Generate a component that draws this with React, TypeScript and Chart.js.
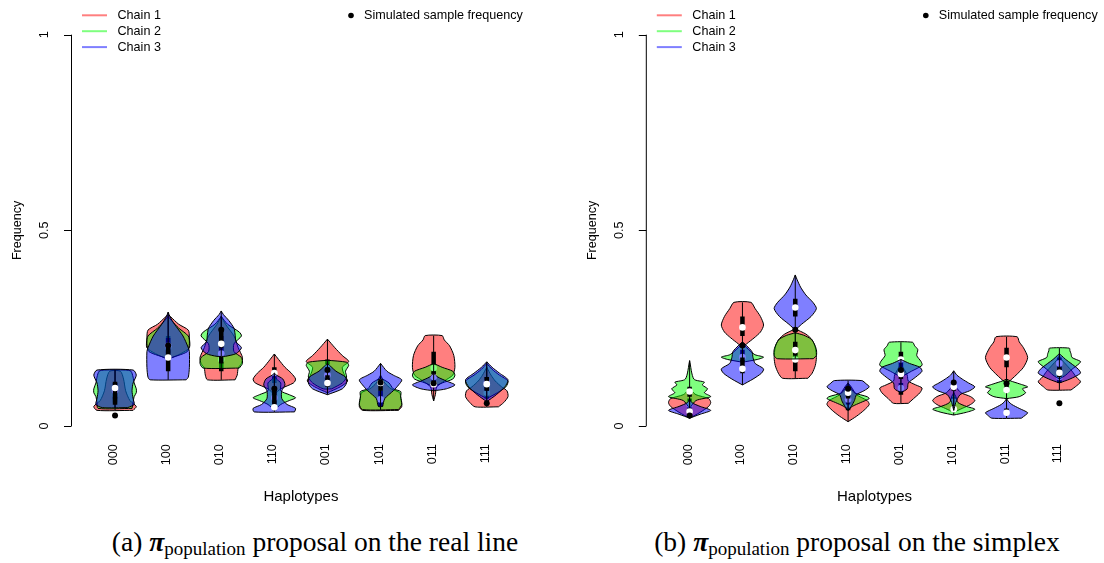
import { useEffect, useRef } from "react";
import { Chart, registerables } from "chart.js";

Chart.register(...registerables);

type Profile = [number, number][]; // [frequency, relative density]
type Box = [number, number, number]; // [q1, median, q3]

const haplotypes = ["000", "100", "010", "110", "001", "101", "011", "111"];
const sampleFrequency = [0.027, 0.206, 0.246, 0.095, 0.143, 0.111, 0.109, 0.058];
const yTickValues = [0, 0.5, 1];
const yTickLabels = ["0", "0.5", "1"];
const chainNames = ["Chain 1", "Chain 2", "Chain 3"];

// ---- (a) proposal on the real line ----
const realChain1: Profile[] = [
  [[0.04, 0.85], [0.05, 1.0], [0.065, 0.7], [0.09, 0.5], [0.12, 0.4], [0.14, 0.25]],
  [[0.17, 0], [0.185, 0.6], [0.2, 1.0], [0.225, 1.0], [0.245, 0.95], [0.26, 0.5], [0.28, 0.1], [0.285, 0]],
  [[0.118, 0.65], [0.13, 0.75], [0.148, 0.8], [0.16, 0.95], [0.175, 1.0], [0.2, 0.8], [0.23, 0.6], [0.26, 0.2], [0.28, 0]],
  [[0.08, 0], [0.095, 0.3], [0.11, 0.9], [0.12, 1.0], [0.135, 0.8], [0.15, 0.5], [0.17, 0.2], [0.184, 0]],
  [[0.085, 0], [0.1, 0.6], [0.115, 0.95], [0.13, 0.8], [0.15, 0.7], [0.165, 1.0], [0.18, 0.7], [0.2, 0.35], [0.222, 0]],
  [[0.04, 0.85], [0.05, 1.0], [0.07, 0.95], [0.085, 0.9], [0.095, 0.5], [0.11, 0.2], [0.13, 0]],
  [[0.064, 0], [0.08, 0.08], [0.1, 0.15], [0.115, 0.5], [0.13, 0.9], [0.15, 1.0], [0.18, 0.95], [0.205, 0.75], [0.22, 0.5], [0.231, 0.4]],
  [[0.049, 0.55], [0.06, 0.8], [0.075, 1.0], [0.09, 0.95], [0.1, 0.7], [0.115, 0.4], [0.13, 0.2], [0.15, 0]],
];
const realChain2: Profile[] = [
  [[0.045, 0.8], [0.06, 0.85], [0.075, 0.9], [0.085, 1.0], [0.095, 1.0], [0.11, 0.9], [0.125, 0.85], [0.14, 0.75], [0.143, 0.5]],
  [[0.172, 0], [0.19, 0.9], [0.21, 1.0], [0.23, 0.95], [0.25, 0.5], [0.27, 0.15], [0.28, 0]],
  [[0.148, 0.85], [0.16, 1.0], [0.175, 0.95], [0.19, 0.6], [0.21, 0.6], [0.23, 0.95], [0.24, 0.85], [0.26, 0.3], [0.28, 0]],
  [[0.04, 0], [0.055, 0.3], [0.065, 0.7], [0.072, 1.0], [0.08, 0.7], [0.09, 0.3], [0.11, 0.3], [0.12, 0.1], [0.13, 0]],
  [[0.095, 0.2], [0.11, 0.7], [0.125, 0.9], [0.14, 0.85], [0.155, 1.0], [0.163, 0.9], [0.168, 0]],
  [[0.042, 0.85], [0.055, 1.0], [0.075, 0.95], [0.088, 0.95], [0.095, 0.6], [0.11, 0.4], [0.12, 0.1], [0.125, 0]],
  [[0.1, 0], [0.11, 0.4], [0.12, 0.9], [0.13, 1.0], [0.14, 0.9], [0.15, 0.4], [0.16, 0]],
  [[0.07, 0], [0.085, 0.5], [0.1, 0.9], [0.115, 1.0], [0.13, 0.6], [0.145, 0.25], [0.16, 0]],
];
const realChain3: Profile[] = [
  [[0.047, 0.6], [0.055, 0.9], [0.07, 0.85], [0.09, 0.8], [0.11, 0.85], [0.13, 1.0], [0.143, 0.85]],
  [[0.118, 0.85], [0.125, 0.95], [0.15, 1.0], [0.19, 1.0], [0.2, 0.95], [0.23, 0.7], [0.26, 0.3], [0.28, 0.08], [0.291, 0]],
  [[0.178, 0.2], [0.185, 0.7], [0.2, 0.95], [0.215, 0.7], [0.235, 0.65], [0.25, 0.6], [0.27, 0.35], [0.285, 0.1], [0.294, 0]],
  [[0.036, 0.95], [0.045, 1.0], [0.055, 0.6], [0.07, 0.35], [0.09, 0.35], [0.105, 0.5], [0.12, 0.4], [0.13, 0.1], [0.135, 0]],
  [[0.08, 0], [0.095, 0.7], [0.11, 0.9], [0.125, 0.85], [0.14, 0.4], [0.15, 0.2], [0.16, 0]],
  [[0.05, 0.1], [0.07, 0.2], [0.09, 0.6], [0.105, 0.85], [0.118, 1.0], [0.13, 0.6], [0.14, 0.3], [0.16, 0]],
  [[0.09, 0], [0.095, 0.6], [0.105, 1.0], [0.115, 0.6], [0.125, 0.2], [0.135, 0]],
  [[0.062, 0], [0.08, 0.45], [0.1, 0.85], [0.118, 1.0], [0.135, 0.6], [0.15, 0.25], [0.164, 0]],
];
const realBox1: Box[] = [
  [0.06, 0.08, 0.11], [0.18, 0.2, 0.23], [0.14, 0.17, 0.2], [0.11, 0.135, 0.15],
  [0.12, 0.15, 0.17], [0.05, 0.07, 0.09], [0.13, 0.148, 0.19], [0.07, 0.085, 0.1],
];
const realBox2: Box[] = [
  [0.07, 0.09, 0.11], [0.185, 0.205, 0.225], [0.16, 0.185, 0.23], [0.055, 0.072, 0.1],
  [0.11, 0.13, 0.15], [0.05, 0.068, 0.09], [0.115, 0.125, 0.14], [0.09, 0.11, 0.125],
];
const realBox3: Box[] = [
  [0.054, 0.097, 0.113], [0.14, 0.175, 0.21], [0.2, 0.21, 0.25], [0.04, 0.048, 0.1],
  [0.1, 0.11, 0.13], [0.09, 0.11, 0.12], [0.1, 0.107, 0.115], [0.09, 0.107, 0.125],
];

// ---- (b) proposal on the simplex ----
const simplexChain1: Profile[] = [
  [[0.02, 0], [0.035, 0.5], [0.05, 0.9], [0.06, 1.0], [0.07, 0.9], [0.08, 0.3], [0.09, 0.1], [0.1, 0]],
  [[0.2, 0], [0.21, 0.2], [0.225, 0.55], [0.24, 0.85], [0.258, 1.0], [0.28, 0.85], [0.3, 0.6], [0.316, 0.4]],
  [[0.122, 0.6], [0.135, 0.8], [0.155, 0.95], [0.175, 1.0], [0.2, 0.95], [0.22, 0.8], [0.235, 0.5], [0.248, 0]],
  [[0.011, 0], [0.025, 0.4], [0.04, 0.75], [0.055, 1.0], [0.065, 0.9], [0.08, 0.4], [0.1, 0.15], [0.11, 0]],
  [[0.058, 0.35], [0.07, 0.6], [0.085, 0.9], [0.097, 1.0], [0.105, 0.7], [0.115, 0.35], [0.13, 0.3], [0.145, 0.15], [0.16, 0]],
  [[0.035, 0], [0.045, 0.4], [0.055, 0.8], [0.065, 1.0], [0.075, 0.8], [0.085, 0.35], [0.1, 0.1], [0.11, 0]],
  [[0.105, 0], [0.115, 0.15], [0.13, 0.45], [0.15, 0.8], [0.175, 1.0], [0.2, 0.8], [0.215, 0.6], [0.228, 0.5]],
  [[0.092, 0.55], [0.1, 0.75], [0.113, 1.0], [0.125, 0.8], [0.14, 0.6], [0.155, 0.35], [0.17, 0.1], [0.18, 0]],
];
const simplexChain2: Profile[] = [
  [[0.045, 0], [0.065, 0.3], [0.075, 1.0], [0.085, 0.7], [0.095, 0.85], [0.105, 0.6], [0.112, 0.7], [0.12, 0.2], [0.167, 0]],
  [[0.163, 0], [0.17, 0.7], [0.176, 1.0], [0.182, 0.6], [0.19, 0.4], [0.2, 0.2], [0.21, 0]],
  [[0.172, 0.85], [0.18, 1.0], [0.195, 1.0], [0.21, 0.9], [0.222, 0.75], [0.232, 0.4], [0.238, 0]],
  [[0.04, 0], [0.05, 0.2], [0.06, 0.6], [0.07, 1.0], [0.075, 0.9], [0.085, 0.3], [0.1, 0.1], [0.11, 0]],
  [[0.125, 0], [0.14, 0.5], [0.155, 1.0], [0.165, 0.95], [0.18, 0.75], [0.195, 0.8], [0.205, 0.65], [0.214, 0.55]],
  [[0.028, 0], [0.035, 0.6], [0.043, 1.0], [0.05, 0.6], [0.06, 0.2], [0.075, 0.1], [0.085, 0]],
  [[0.07, 0], [0.075, 0.6], [0.085, 0.9], [0.095, 0.75], [0.1, 1.0], [0.108, 0.6], [0.115, 0.2], [0.12, 0]],
  [[0.12, 0], [0.13, 0.3], [0.145, 0.6], [0.16, 0.95], [0.165, 1.0], [0.175, 0.6], [0.185, 0.55], [0.192, 0.5], [0.199, 0.47]],
];
const simplexChain3: Profile[] = [
  [[0.02, 0], [0.03, 0.5], [0.04, 1.0], [0.05, 0.5], [0.06, 0.1], [0.07, 0]],
  [[0.105, 0], [0.12, 0.5], [0.135, 0.9], [0.146, 1.0], [0.16, 0.6], [0.175, 0.5], [0.19, 0.45], [0.205, 0.2], [0.215, 0]],
  [[0.245, 0], [0.26, 0.3], [0.28, 0.75], [0.3, 1.0], [0.315, 0.85], [0.335, 0.5], [0.355, 0.25], [0.375, 0.08], [0.386, 0]],
  [[0.04, 0], [0.05, 0.15], [0.065, 0.3], [0.08, 0.4], [0.09, 0.75], [0.1, 1.0], [0.108, 0.85], [0.116, 0.65]],
  [[0.085, 0], [0.095, 0.3], [0.11, 0.35], [0.125, 0.7], [0.14, 1.0], [0.15, 0.9], [0.16, 0.4], [0.17, 0]],
  [[0.04, 0], [0.06, 0.1], [0.08, 0.3], [0.09, 0.75], [0.1, 1.0], [0.11, 0.7], [0.12, 0.4], [0.13, 0.15], [0.141, 0]],
  [[0.02, 0.7], [0.028, 0.9], [0.034, 1.0], [0.045, 0.6], [0.055, 0.25], [0.062, 0.1], [0.07, 0]],
  [[0.11, 0], [0.12, 0.5], [0.135, 1.0], [0.145, 0.9], [0.16, 0.55], [0.17, 0.3], [0.18, 0.1], [0.185, 0]],
];
const simplexBox1: Box[] = [
  [0.045, 0.055, 0.07], [0.23, 0.252, 0.28], [0.14, 0.17, 0.2], [0.04, 0.055, 0.07],
  [0.08, 0.097, 0.11], [0.055, 0.062, 0.075], [0.15, 0.175, 0.2], [0.11, 0.125, 0.14],
];
const simplexBox2: Box[] = [
  [0.075, 0.088, 0.1], [0.165, 0.176, 0.195], [0.18, 0.194, 0.215], [0.055, 0.068, 0.08],
  [0.15, 0.17, 0.19], [0.038, 0.043, 0.05], [0.085, 0.092, 0.105], [0.14, 0.16, 0.175],
];
const simplexBox3: Box[] = [
  [0.03, 0.037, 0.045], [0.135, 0.146, 0.175], [0.28, 0.303, 0.325], [0.07, 0.085, 0.1],
  [0.12, 0.133, 0.145], [0.09, 0.1, 0.115], [0.028, 0.034, 0.045], [0.125, 0.136, 0.15],
];

// ---- styling ----
const chainFill = ["rgba(255,0,0,0.5)", "rgba(0,255,0,0.5)", "rgba(0,0,255,0.5)"];
const HALF_WIDTH = 0.4; // widest point of a violin, in x units
const SANS = '"Liberation Sans", Arial, Helvetica, sans-serif';
const SERIF = '"Liberation Serif", "Times New Roman", serif';
const CANVAS_W = 552;
const CANVAS_H = 520;

interface PanelSpec {
  chains: Profile[][];
  boxes: Box[][];
  left: number;
  padding: { left: number; right: number; top: number; bottom: number };
  xMax: number;
  caption: { letter: string; rest: string; center: number };
}

const panels: PanelSpec[] = [
  {
    chains: [realChain1, realChain2, realChain3],
    boxes: [realBox1, realBox2, realBox3],
    left: 0,
    padding: { left: 71.5, right: 21.7, top: 19.05, bottom: 78.35 },
    xMax: 8.82,
    caption: { letter: "(a)", rest: "proposal on the real line", center: 315 },
  },
  {
    chains: [simplexChain1, simplexChain2, simplexChain3],
    boxes: [simplexBox1, simplexBox2, simplexBox3],
    left: 552,
    padding: { left: 94.3, right: 0, top: 19.05, bottom: 78.35 },
    xMax: 8.769,
    caption: { letter: "(b)", rest: "proposal on the simplex", center: 857 },
  },
];

function buildDatasets(chains: Profile[][], boxes: Box[][]) {
  const list: any[] = [];
  chains.forEach((profiles, c) => {
    profiles.forEach((prof, i) => {
      const at = i + 1;
      const right = prof.map(([v, w]) => ({ x: at + w * HALF_WIDTH, y: v }));
      const left = prof
        .slice()
        .reverse()
        .map(([v, w]) => ({ x: at - w * HALF_WIDTH, y: v }));
      list.push({
        label: `${chainNames[c]} ${haplotypes[i]}`,
        data: [...right, ...left, right[0]],
        showLine: true,
        fill: "shape",
        backgroundColor: chainFill[c],
        borderColor: "#000",
        borderWidth: 1,
        pointRadius: 0,
        tension: 0.25,
      });
      const vals = prof.map((p) => p[0]);
      list.push({
        label: `${chainNames[c]} ${haplotypes[i]} range`,
        data: [
          { x: at, y: Math.min(...vals) },
          { x: at, y: Math.max(...vals) },
        ],
        showLine: true,
        fill: false,
        borderColor: "#000",
        borderWidth: 1,
        pointRadius: 0,
      });
      const [q1, , q3] = boxes[c][i];
      list.push({
        label: `${chainNames[c]} ${haplotypes[i]} quartiles`,
        data: [
          { x: at, y: q1 },
          { x: at, y: q3 },
        ],
        showLine: true,
        fill: false,
        borderColor: "#000",
        borderWidth: 4.5,
        borderCapStyle: "butt",
        pointRadius: 0,
      });
    });
    list.push({
      label: `${chainNames[c]} median`,
      data: boxes[c].map((b, i) => ({ x: i + 1, y: b[1] })),
      showLine: false,
      pointRadius: 3.3,
      backgroundColor: "#fff",
      borderWidth: 0,
    });
  });
  list.push({
    label: "Simulated sample frequency",
    data: sampleFrequency.map((v, i) => ({ x: i + 1, y: v })),
    showLine: false,
    pointRadius: 3,
    backgroundColor: "#000",
    borderWidth: 0,
  });
  const n = list.length;
  list.forEach((d, k) => {
    d.order = n - k;
  });
  return list;
}

const panelDecor = {
  id: "panelDecor",
  afterDraw(chart: any) {
    const ctx: CanvasRenderingContext2D = chart.ctx;
    const xs = chart.scales.x;
    const ys = chart.scales.y;
    const axisX = chart.chartArea.left;
    const bottom = chart.chartArea.bottom;
    const small = `12.6px ${SANS}`;
    ctx.save();
    ctx.strokeStyle = "#000";
    ctx.fillStyle = "#000";
    ctx.lineWidth = 1;

    // y axis with outward ticks
    ctx.beginPath();
    ctx.moveTo(axisX, ys.getPixelForValue(yTickValues[0]));
    ctx.lineTo(axisX, ys.getPixelForValue(yTickValues[yTickValues.length - 1]));
    yTickValues.forEach((t) => {
      const py = Math.round(ys.getPixelForValue(t)) + 0.5;
      ctx.moveTo(axisX, py);
      ctx.lineTo(axisX - 7.5, py);
    });
    ctx.stroke();

    ctx.font = small;
    ctx.textAlign = "center";
    ctx.textBaseline = "middle";
    yTickValues.forEach((t, k) => {
      ctx.save();
      ctx.translate(axisX - 27, ys.getPixelForValue(t));
      ctx.rotate(-Math.PI / 2);
      ctx.fillText(yTickLabels[k], 0, 0);
      ctx.restore();
    });

    // haplotype labels, perpendicular to the axis
    ctx.textAlign = "right";
    haplotypes.forEach((h, i) => {
      const px = xs.getPixelForValue(i + 1) - 1.5;
      ctx.save();
      ctx.translate(px, bottom + 2.5);
      ctx.rotate(-Math.PI / 2);
      ctx.fillText(h, 0, 0);
      ctx.restore();
    });

    // axis titles
    ctx.font = `15px ${SANS}`;
    ctx.textAlign = "center";
    ctx.textBaseline = "alphabetic";
    const mid = (xs.getPixelForValue(1) + xs.getPixelForValue(haplotypes.length)) / 2;
    ctx.fillText("Haplotypes", mid, 501);
    ctx.save();
    ctx.font = small;
    ctx.textBaseline = "middle";
    ctx.translate(axisX - 53.5, ys.getPixelForValue(0.5));
    ctx.rotate(-Math.PI / 2);
    ctx.fillText("Frequency", 0, 0);
    ctx.restore();

    // legend
    ctx.font = small;
    ctx.textAlign = "left";
    ctx.textBaseline = "middle";
    chainNames.forEach((name, c) => {
      const ly = 15.3 + c * 15.9;
      ctx.strokeStyle = chainFill[c];
      ctx.lineWidth = 2;
      ctx.beginPath();
      ctx.moveTo(axisX + 10.5, ly);
      ctx.lineTo(axisX + 35.5, ly);
      ctx.stroke();
      ctx.fillStyle = "#000";
      ctx.fillText(name, axisX + 46, ly);
    });
    ctx.beginPath();
    ctx.arc(axisX + 279.5, 15.5, 2.8, 0, Math.PI * 2);
    ctx.fill();
    ctx.fillText("Simulated sample frequency", axisX + 292.5, 15.5);
    ctx.restore();
  },
};

function ViolinPanel({ spec }: { spec: PanelSpec }) {
  const ref = useRef<HTMLCanvasElement>(null);
  useEffect(() => {
    const chart = new Chart(ref.current as HTMLCanvasElement, {
      type: "scatter",
      data: { datasets: buildDatasets(spec.chains, spec.boxes) },
      options: {
        animation: false,
        responsive: false,
        maintainAspectRatio: false,
        events: [],
        layout: { padding: spec.padding },
        scales: {
          x: { type: "linear", min: 0.18, max: spec.xMax, display: false },
          y: { type: "linear", min: -0.04, max: 1.04, display: false },
        },
        plugins: {
          legend: { display: false },
          tooltip: { enabled: false },
        },
      } as any,
      plugins: [panelDecor],
    });
    return () => chart.destroy();
  }, [spec]);
  return (
    <canvas
      ref={ref}
      width={CANVAS_W}
      height={CANVAS_H}
      style={{ position: "absolute", left: spec.left, top: 0, width: CANVAS_W, height: CANVAS_H }}
    />
  );
}

function Caption({ spec }: { spec: PanelSpec }) {
  const c = spec.caption;
  return (
    <div
      style={{
        position: "absolute",
        left: c.center - 300,
        width: 600,
        top: 528,
        textAlign: "center",
        fontFamily: SERIF,
        fontSize: 27.5,
        lineHeight: "27px",
        whiteSpace: "nowrap",
        color: "#000",
      }}
    >
      {c.letter}{" "}
      <b>
        <i>π</i>
      </b>
      <span style={{ fontSize: 19, position: "relative", top: 4 }}>population</span> {c.rest}
    </div>
  );
}

export default function App() {
  return (
    <div
      style={{
        position: "absolute",
        left: 0,
        top: 0,
        width: 1104,
        height: 563,
        overflow: "hidden",
        background: "#fff",
      }}
    >
      {panels.map((p, i) => (
        <ViolinPanel key={i} spec={p} />
      ))}
      {panels.map((p, i) => (
        <Caption key={`c${i}`} spec={p} />
      ))}
    </div>
  );
}
